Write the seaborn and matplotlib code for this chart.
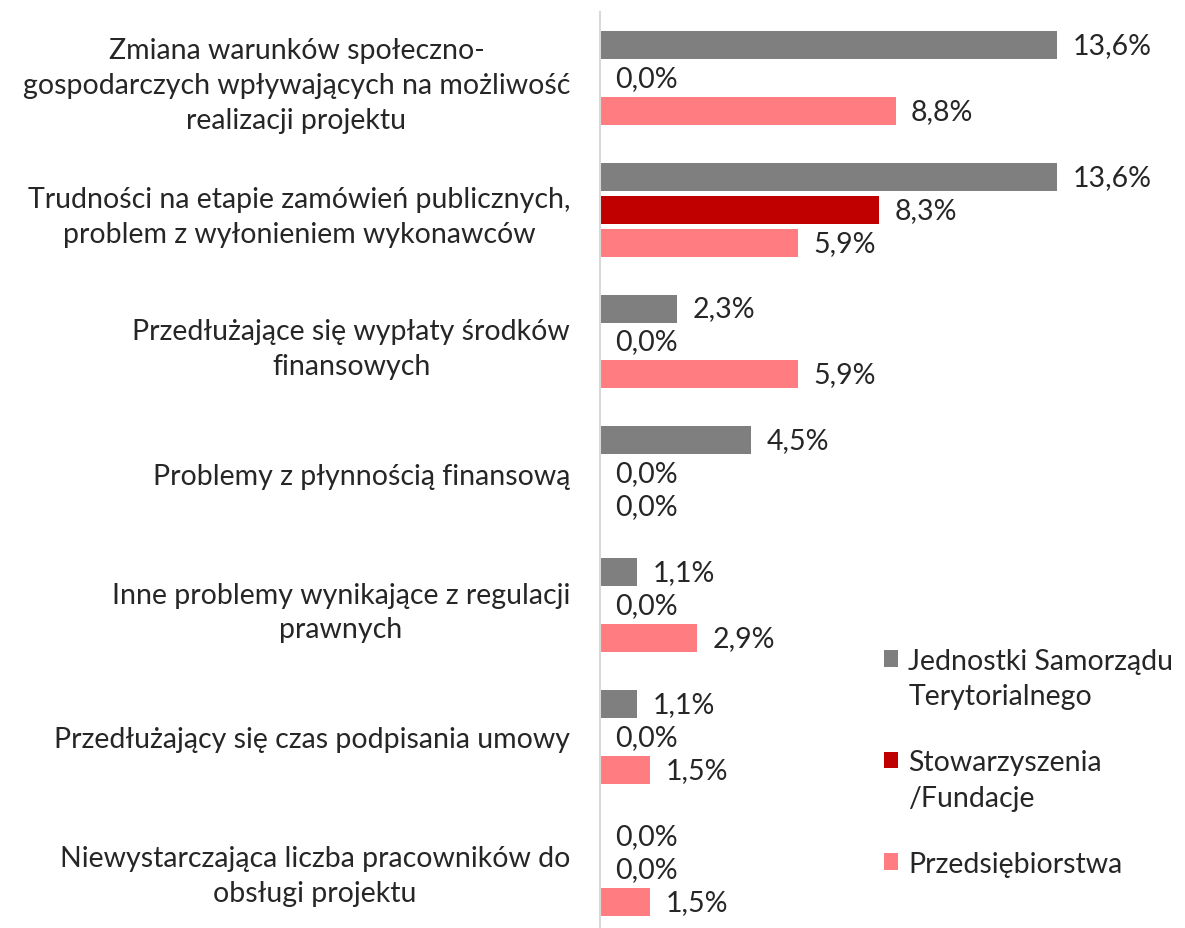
import matplotlib
matplotlib.use("Agg")
import matplotlib.pyplot as plt
import seaborn as sns
import pandas as pd
from matplotlib.patches import Patch, Rectangle
from matplotlib.legend_handler import HandlerPatch

categories = [
    "Zmiana warunków społeczno-\ngospodarczych wpływających na możliwość\nrealizacji projektu",
    "Trudności na etapie zamówień publicznych,\nproblem z wyłonieniem wykonawców",
    "Przedłużające się wypłaty środków\nfinansowych",
    "Problemy z płynnością finansową",
    "Inne problemy wynikające z regulacji\nprawnych",
    "Przedłużający się czas podpisania umowy",
    "Niewystarczająca liczba pracowników do\nobsługi projektu",
]
series_names = ["Jednostki Samorządu\nTerytorialnego", "Stowarzyszenia\n/Fundacje", "Przedsiębiorstwa"]
jst = [13.6, 13.6, 2.3, 4.5, 1.1, 1.1, 0.0]
fund = [0.0, 8.3, 0.0, 0.0, 0.0, 0.0, 0.0]
przed = [8.8, 5.9, 5.9, 0.0, 2.9, 1.5, 1.5]
colors = ["#7F7F7F", "#C00000", "#FF7C80"]

rows = []
for name, vals in zip(series_names, [jst, fund, przed]):
    for c, v in zip(categories, vals):
        rows.append({"cat": c, "series": name, "val": v})
df = pd.DataFrame(rows)

sns.set_style("white")
plt.rcParams['font.family'] = ['Lato', 'DejaVu Sans']
FS = 20.5
LS = 1.45
TXT = "#262626"

fig = plt.figure(figsize=(11.85, 9.29), dpi=100)
ax = fig.add_axes([600/1185, 0.0, 585/1185, 916/929])

sns.barplot(data=df, y="cat", x="val", hue="series", orient="h",
            palette=colors, width=0.75, gap=0.15, ax=ax, saturation=1,
            edgecolor="none", legend=False)

ax.set_xlim(0, 585/33.6)
ax.set_ylim(6.45, -0.5)
ax.set_xlabel("")
ax.set_ylabel("")
ax.set_xticks([])
for s in ["top", "right", "bottom"]:
    ax.spines[s].set_visible(False)
ax.spines["left"].set_color("#D9D9D9")
ax.spines["left"].set_linewidth(1.5)
ax.tick_params(axis="y", length=0, pad=21.5, labelsize=FS, labelcolor=TXT)
for lbl in ax.get_yticklabels():
    lbl.set_multialignment("center")
    lbl.set_linespacing(1.42)

for cont in ax.containers:
    labels = [f"{v:.1f}%".replace(".", ",") for v in cont.datavalues]
    ax.bar_label(cont, labels=labels, padding=11, fontsize=FS, color=TXT)


class HandlerTop(HandlerPatch):
    def __init__(self, shift=0.0, **kw):
        super().__init__(**kw)
        self.shift = shift

    def create_artists(self, legend, orig_handle, xdescent, ydescent, width, height, fontsize, trans):
        r = Rectangle((-xdescent, -ydescent + self.shift), width, height,
                      facecolor=orig_handle.get_facecolor(), edgecolor="none", transform=trans)
        return [r]


handles = [Patch(facecolor=c) for c in colors]
shift = FS * LS / 2
hmap = {h: HandlerTop(shift if "\n" in n else 0.0) for h, n in zip(handles, series_names)}
leg = fig.legend(handles, series_names, handler_map=hmap, loc="upper left",
                 bbox_to_anchor=(884/1185, 1 - 649/929), bbox_transform=fig.transFigure,
                 frameon=False, fontsize=FS, handlelength=0.5, handleheight=0.5,
                 handletextpad=0.35, labelspacing=1.4, borderpad=0, borderaxespad=0)
for t in leg.get_texts():
    t.set_color(TXT)
    t.set_linespacing(LS)

fig.savefig("out.png", dpi=100)
